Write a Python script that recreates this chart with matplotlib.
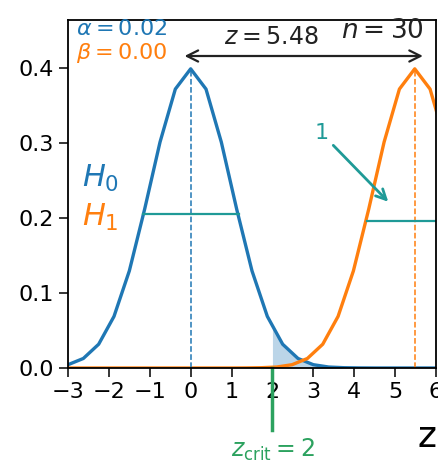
import matplotlib
matplotlib.use("Agg")
import matplotlib.pyplot as plt

# sampled standard-normal curve under H0
h0_x = [-3.0, -2.625, -2.25, -1.875, -1.5, -1.125, -0.75, -0.375, 0.0,
        0.375, 0.75, 1.125, 1.5, 1.875, 2.25, 2.625, 3.0, 3.375, 3.75,
        4.125, 4.5, 4.875, 5.25, 5.625, 6.0]
h0_y = [0.0044, 0.0127, 0.0317, 0.0688, 0.1295, 0.2119, 0.3011, 0.3719, 0.3989,
        0.3719, 0.3011, 0.2119, 0.1295, 0.0688, 0.0317, 0.0127, 0.0044, 0.0013, 0.0004,
        0.0001, 0.0, 0.0, 0.0, 0.0, 0.0]

# same curve shifted to z = 5.48 under H1
h1_x = [-3.145, -2.77, -2.395, -2.02, -1.645, -1.27, -0.895, -0.52, -0.145,
        0.23, 0.605, 0.98, 1.355, 1.73, 2.105, 2.48, 2.855, 3.23, 3.605,
        3.98, 4.355, 4.73, 5.105, 5.48, 5.855, 6.23]
h1_y = [0.0, 0.0, 0.0, 0.0, 0.0, 0.0, 0.0, 0.0, 0.0,
        0.0, 0.0, 0.0, 0.0001, 0.0004, 0.0013, 0.0044, 0.0127, 0.0317, 0.0688,
        0.1295, 0.2119, 0.3011, 0.3719, 0.3989, 0.3719, 0.3011]

# rejection region of H0 (z >= z_crit)
tail_x = [2.0, 2.25, 2.625, 3.0, 3.375, 3.75, 4.125, 4.5, 6.0]
tail_y = [0.054, 0.0317, 0.0127, 0.0044, 0.0013, 0.0004, 0.0001, 0.0, 0.0]

z_stat = 5.48
z_crit = 2
n = 30
alpha = 0.02
beta = 0.00
peak = 0.3989
h0_width = (-1.177, 1.177, 0.206)
h1_width = (4.303, 6.657, 0.196)

blue = "#1f77b4"
orange = "#ff7f0e"
teal = "#1f9a97"
green = "#2ca25f"

fig = plt.figure(figsize=(4.38, 4.63), dpi=100)
ax = fig.add_axes([68 / 438, 95 / 463, 368 / 438, 348 / 463])

ax.plot(h0_x, h0_y, color=blue, lw=2.4)
ax.plot(h1_x, h1_y, color=orange, lw=2.4)
ax.fill_between(tail_x, tail_y, color=blue, alpha=0.3, lw=0)

ax.plot([0, 0], [0, peak], color=blue, lw=1.1, ls="--")
ax.plot([z_stat, z_stat], [0, peak], color=orange, lw=1.1, ls="--")

ax.plot(h0_width[:2], [h0_width[2]] * 2, color=teal, lw=1.6)
ax.plot(h1_width[:2], [h1_width[2]] * 2, color=teal, lw=1.6)

ax.annotate("", xy=(-0.15, 0.416), xytext=(5.68, 0.416),
            arrowprops=dict(arrowstyle="<->", color="#222222", lw=1.6,
                            shrinkA=0, shrinkB=0, mutation_scale=20))
ax.text(1.96, 0.441, r"$z = %.2f$" % z_stat, fontsize=17, ha="center", va="center", color="#222222")
ax.text(4.70, 0.449, r"$n = %d$" % n, fontsize=19, ha="center", va="center", color="#222222")

ax.text(-2.8, 0.452, r"$\alpha = %.2f$" % alpha, fontsize=16, color=blue, ha="left", va="center")
ax.text(-2.8, 0.420, r"$\beta = %.2f$" % beta, fontsize=16, color=orange, ha="left", va="center")

ax.text(-2.66, 0.253, r"$H_0$", fontsize=22, color=blue, ha="left", va="center")
ax.text(-2.66, 0.201, r"$H_1$", fontsize=22, color=orange, ha="left", va="center")

ax.annotate("1", xy=(4.88, 0.219), xytext=(3.2, 0.313), fontsize=16, color=teal,
            ha="center", va="center",
            arrowprops=dict(arrowstyle="->", color=teal, lw=2, mutation_scale=18))

ax.plot([z_crit, z_crit], [0, -0.083], color=green, lw=2.5, clip_on=False)
ax.text(z_crit, -0.109, r"$z_{\rm crit} = %d$" % z_crit, fontsize=17, color=green,
        ha="center", va="center")

ax.set_xlim(-3, 6)
ax.set_ylim(0, 0.464)
ax.set_xticks(range(-3, 7))
ax.set_yticks([0.0, 0.1, 0.2, 0.3, 0.4])
ax.tick_params(labelsize=16, length=6.5, width=1.1)
for s in ax.spines.values():
    s.set_linewidth(1.3)
ax.set_xlabel("z", fontsize=26, loc="right", labelpad=13)

fig.savefig("out.png", dpi=100)
